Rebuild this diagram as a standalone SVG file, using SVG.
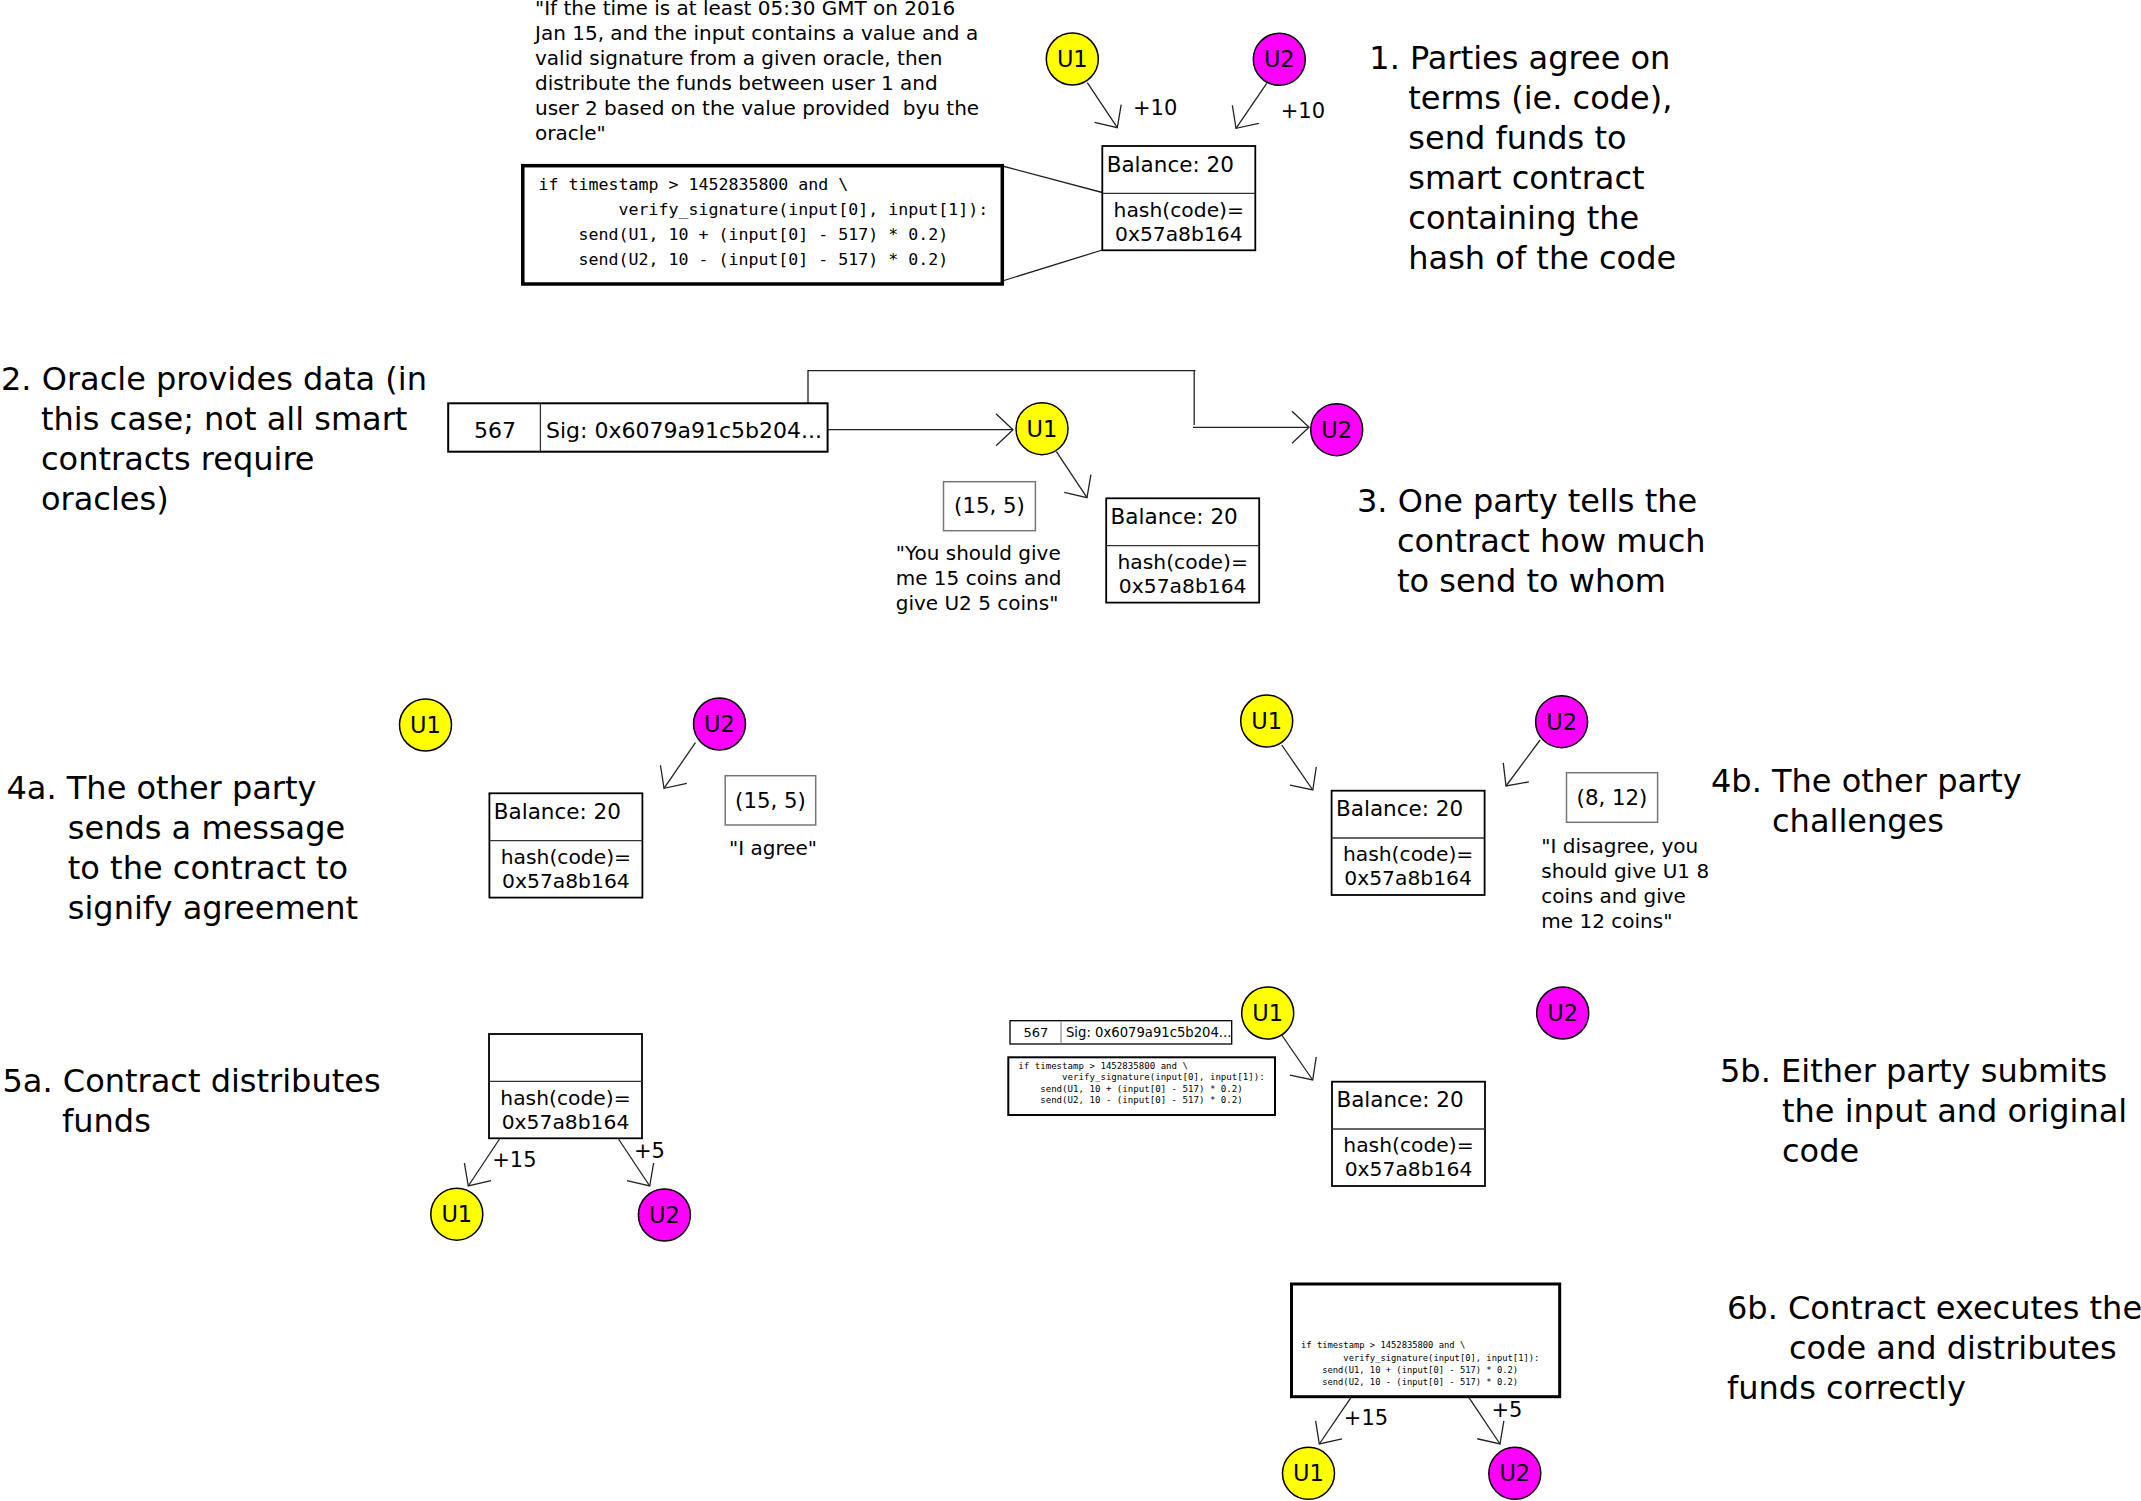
<svg xmlns="http://www.w3.org/2000/svg" width="2141" height="1501" viewBox="0 0 2141 1501">
<defs>
<style>
text{font-family:"DejaVu Sans","Liberation Sans",sans-serif;fill:#000}
.step{font-size:32px}
.note{font-size:20px}
.mono{font-family:"DejaVu Sans Mono","Liberation Mono",monospace;white-space:pre}
.u1{fill:#ffff00;stroke:#000;stroke-width:1.5}
.u2{fill:#ff00ff;stroke:#000;stroke-width:1.5}
.ut{font-size:22.5px;text-anchor:middle}
.box{fill:#fff;stroke:#000;stroke-width:1.8}
.div{stroke:#333;stroke-width:1.3}
.bal{font-size:21.5px}
.hash{font-size:20.3px;text-anchor:middle}
.msg{fill:#fff;stroke:#777;stroke-width:1.5}
.msgt{font-size:21.3px;text-anchor:middle}
.amt{font-size:21px}
.conn{fill:none;stroke:#222;stroke-width:1.3}
.arr{marker-end:url(#ah)}
.code{fill:#fff;stroke:#000;stroke-width:3.5}
.orc{fill:#fff;stroke:#000;stroke-width:2}
</style>
<marker id="ah" markerUnits="userSpaceOnUse" viewBox="-20 -20 40 40" markerWidth="40" markerHeight="40" refX="0" refY="0" orient="auto" overflow="visible">
<path d="M-17,-16 L0,0 L-17,16" fill="none" stroke="#222" stroke-width="1.3"/>
</marker>
</defs>
<rect width="2141" height="1501" fill="#fff"/>

<g id="connectors">
<line class="conn" x1="1002.3" y1="166" x2="1102.3" y2="192.5"/>
<line class="conn" x1="1002.3" y1="281" x2="1102.3" y2="250"/>
<line class="conn arr" x1="1087.3" y1="82.7" x2="1117.3" y2="127.7"/>
<line class="conn arr" x1="1266.7" y1="83.3" x2="1236" y2="128.3"/>
<line class="conn arr" x1="827.6" y1="429.7" x2="1013" y2="429.7"/>
<path class="conn" d="M808,403.3 V370.7 H1195.5 M1194.2,370.7 V425"/>
<line class="conn arr" x1="1193" y1="427.3" x2="1309" y2="427.3"/>
<line class="conn arr" x1="1056.4" y1="451.7" x2="1087" y2="497.7"/>
<line class="conn arr" x1="695.4" y1="742.7" x2="664" y2="788.3"/>
<line class="conn arr" x1="1281.7" y1="745" x2="1312.8" y2="790"/>
<line class="conn arr" x1="1540.1" y1="740" x2="1506" y2="786"/>
<line class="conn arr" x1="499.5" y1="1139" x2="468.3" y2="1186"/>
<line class="conn arr" x1="618.5" y1="1139" x2="649.7" y2="1186"/>
<line class="conn arr" x1="1281.7" y1="1035" x2="1312.7" y2="1080"/>
<line class="conn arr" x1="1351.1" y1="1397.3" x2="1319.3" y2="1444"/>
<line class="conn arr" x1="1468.8" y1="1397.3" x2="1500" y2="1444"/>
</g>

<g id="amounts">
<text class="amt" x="1133" y="115">+10</text>
<text class="amt" x="1280.7" y="118.3">+10</text>
<text class="amt" x="492.2" y="1166.7">+15</text>
<text class="amt" x="634" y="1158.3">+5</text>
<text class="amt" x="1343.8" y="1425">+15</text>
<text class="amt" x="1491.5" y="1416.7">+5</text>
</g>

<!-- Step 1 -->
<g id="terms-text">
<text class="note" x="535" y="15">"If the time is at least 05:30 GMT on 2016</text>
<text class="note" x="535" y="40">Jan 15, and the input contains a value and a</text>
<text class="note" x="535" y="65">valid signature from a given oracle, then</text>
<text class="note" x="535" y="90">distribute the funds between user 1 and</text>
<text class="note" x="535" y="115" xml:space="preserve">user 2 based on the value provided  byu the</text>
<text class="note" x="535" y="140">oracle"</text>
</g>
<g id="code1">
<rect class="code" x="522.8" y="165.7" width="479.5" height="118.3"/>
<text class="mono" font-size="16.6" x="538.6" y="190" xml:space="preserve">if timestamp &gt; 1452835800 and \</text>
<text class="mono" font-size="16.6" x="538.6" y="215" xml:space="preserve">        verify_signature(input[0], input[1]):</text>
<text class="mono" font-size="16.6" x="538.6" y="240" xml:space="preserve">    send(U1, 10 + (input[0] - 517) * 0.2)</text>
<text class="mono" font-size="16.6" x="538.6" y="265" xml:space="preserve">    send(U2, 10 - (input[0] - 517) * 0.2)</text>
</g>
<g id="contract1" transform="translate(1102.3,146)">
<rect class="box" width="153" height="104.3"/>
<line class="div" x1="0" y1="47.3" x2="153" y2="47.3"/>
<text class="bal" x="4.4" y="25.7">Balance: 20</text>
<text class="hash" x="76.5" y="70.7">hash(code)=</text>
<text class="hash" x="76.5" y="94.7">0x57a8b164</text>
</g>
<g id="u1-s1"><circle class="u1" cx="1072.3" cy="59" r="26"/><text class="ut" x="1072.3" y="67">U1</text></g>
<g id="u2-s1"><circle class="u2" cx="1279.3" cy="59.3" r="26"/><text class="ut" x="1279.3" y="67.3">U2</text></g>
<g id="step1">
<text class="step" x="1369.3" y="69">1. Parties agree on</text>
<text class="step" x="1408.3" y="109">terms (ie. code),</text>
<text class="step" x="1408.3" y="149">send funds to</text>
<text class="step" x="1408.3" y="189">smart contract</text>
<text class="step" x="1408.3" y="229">containing the</text>
<text class="step" x="1408.3" y="269">hash of the code</text>
</g>

<!-- Step 2 / 3 -->
<g id="step2">
<text class="step" x="1" y="390">2. Oracle provides data (in</text>
<text class="step" x="41" y="430">this case; not all smart</text>
<text class="step" x="41" y="470">contracts require</text>
<text class="step" x="41" y="510">oracles)</text>
</g>
<g id="oracle">
<rect class="orc" x="448.2" y="403.3" width="379.4" height="48.4"/>
<line class="div" x1="540.4" y1="403.3" x2="540.4" y2="453"/>
<text font-size="22" x="495" y="438" text-anchor="middle">567</text>
<text font-size="22" x="546" y="438">Sig: 0x6079a91c5b204...</text>
</g>
<g id="u1-s3"><circle class="u1" cx="1042" cy="428.7" r="26"/><text class="ut" x="1042" y="436.7">U1</text></g>
<g id="u2-s3"><circle class="u2" cx="1336.7" cy="429.7" r="26"/><text class="ut" x="1336.7" y="437.7">U2</text></g>
<g id="msg-s3">
<rect class="msg" x="943.5" y="481.7" width="91.9" height="49"/>
<text class="msgt" x="989.5" y="513">(15, 5)</text>
<text class="note" x="895.7" y="560">"You should give</text>
<text class="note" x="895.7" y="585">me 15 coins and</text>
<text class="note" x="895.7" y="610">give U2 5 coins"</text>
</g>
<g id="contract3" transform="translate(1106.2,498.3)">
<rect class="box" width="153" height="104.3"/>
<line class="div" x1="0" y1="47.3" x2="153" y2="47.3"/>
<text class="bal" x="4.4" y="25.7">Balance: 20</text>
<text class="hash" x="76.5" y="70.7">hash(code)=</text>
<text class="hash" x="76.5" y="94.7">0x57a8b164</text>
</g>
<g id="step3">
<text class="step" x="1357" y="511.7">3. One party tells the</text>
<text class="step" x="1397" y="551.7">contract how much</text>
<text class="step" x="1397" y="591.7">to send to whom</text>
</g>

<!-- Step 4a -->
<g id="step4a">
<text class="step" x="6.5" y="799">4a. The other party</text>
<text class="step" x="67.8" y="839">sends a message</text>
<text class="step" x="67.8" y="879">to the contract to</text>
<text class="step" x="67.8" y="919">signify agreement</text>
</g>
<g id="u1-s4a"><circle class="u1" cx="425.5" cy="725" r="26"/><text class="ut" x="425.5" y="733">U1</text></g>
<g id="u2-s4a"><circle class="u2" cx="719.5" cy="724" r="26"/><text class="ut" x="719.5" y="732">U2</text></g>
<g id="contract4a" transform="translate(489.4,793.3)">
<rect class="box" width="153" height="104.3"/>
<line class="div" x1="0" y1="47.3" x2="153" y2="47.3"/>
<text class="bal" x="4.4" y="25.7">Balance: 20</text>
<text class="hash" x="76.5" y="70.7">hash(code)=</text>
<text class="hash" x="76.5" y="94.7">0x57a8b164</text>
</g>
<g id="msg-s4a">
<rect class="msg" x="725.2" y="775.7" width="90.5" height="49.3"/>
<text class="msgt" x="770.5" y="808.3">(15, 5)</text>
<text class="note" x="729" y="855">"I agree"</text>
</g>

<!-- Step 4b -->
<g id="u1-s4b"><circle class="u1" cx="1266.7" cy="721" r="26"/><text class="ut" x="1266.7" y="729">U1</text></g>
<g id="u2-s4b"><circle class="u2" cx="1561.6" cy="721.7" r="26"/><text class="ut" x="1561.6" y="729.7">U2</text></g>
<g id="contract4b" transform="translate(1331.6,790.7)">
<rect class="box" width="153" height="104.3"/>
<line class="div" x1="0" y1="47.3" x2="153" y2="47.3"/>
<text class="bal" x="4.4" y="25.7">Balance: 20</text>
<text class="hash" x="76.5" y="70.7">hash(code)=</text>
<text class="hash" x="76.5" y="94.7">0x57a8b164</text>
</g>
<g id="msg-s4b">
<rect class="msg" x="1566.5" y="772.7" width="91.1" height="49.6"/>
<text class="msgt" x="1612" y="805">(8, 12)</text>
<text class="note" x="1541.3" y="853.3">"I disagree, you</text>
<text class="note" x="1541.3" y="878.3">should give U1 8</text>
<text class="note" x="1541.3" y="903.3">coins and give</text>
<text class="note" x="1541.3" y="928.3">me 12 coins"</text>
</g>
<g id="step4b">
<text class="step" x="1711" y="791.7">4b. The other party</text>
<text class="step" x="1772" y="831.7">challenges</text>
</g>

<!-- Step 5a -->
<g id="step5a">
<text class="step" x="2.5" y="1091.7">5a. Contract distributes</text>
<text class="step" x="62" y="1131.7">funds</text>
</g>
<g id="contract5a" transform="translate(489,1034)">
<rect class="box" width="153" height="104.3"/>
<line class="div" x1="0" y1="47.3" x2="153" y2="47.3"/>
<text class="hash" x="76.5" y="70.7">hash(code)=</text>
<text class="hash" x="76.5" y="94.7">0x57a8b164</text>
</g>
<g id="u1-s5a"><circle class="u1" cx="456.8" cy="1214.2" r="26"/><text class="ut" x="456.8" y="1222.2">U1</text></g>
<g id="u2-s5a"><circle class="u2" cx="664.4" cy="1215" r="26"/><text class="ut" x="664.4" y="1223">U2</text></g>

<!-- Step 5b -->
<g id="oracle-s5b">
<rect fill="#fff" stroke="#000" stroke-width="1.3" x="1010" y="1020.7" width="221.7" height="23.3"/>
<line stroke="#777" stroke-width="1" x1="1061" y1="1020.7" x2="1061" y2="1044"/>
<text font-size="13" x="1036" y="1036.7" text-anchor="middle">567</text>
<text font-size="13.2" x="1066" y="1036.7">Sig: 0x6079a91c5b204...</text>
</g>
<g id="code-s5b">
<rect fill="#fff" stroke="#000" stroke-width="2" x="1008.3" y="1057.3" width="266.7" height="57.7"/>
<text class="mono" font-size="9.1" x="1018.3" y="1069.3" xml:space="preserve">if timestamp &gt; 1452835800 and \</text>
<text class="mono" font-size="9.1" x="1018.3" y="1080.4" xml:space="preserve">        verify_signature(input[0], input[1]):</text>
<text class="mono" font-size="9.1" x="1018.3" y="1091.5" xml:space="preserve">    send(U1, 10 + (input[0] - 517) * 0.2)</text>
<text class="mono" font-size="9.1" x="1018.3" y="1102.6" xml:space="preserve">    send(U2, 10 - (input[0] - 517) * 0.2)</text>
</g>
<g id="u1-s5b"><circle class="u1" cx="1267.7" cy="1013" r="26"/><text class="ut" x="1267.7" y="1021">U1</text></g>
<g id="u2-s5b"><circle class="u2" cx="1562.7" cy="1013" r="26"/><text class="ut" x="1562.7" y="1021">U2</text></g>
<g id="contract5b" transform="translate(1332,1081.7)">
<rect class="box" width="153" height="104.3"/>
<line class="div" x1="0" y1="47.3" x2="153" y2="47.3"/>
<text class="bal" x="4.4" y="25.7">Balance: 20</text>
<text class="hash" x="76.5" y="70.7">hash(code)=</text>
<text class="hash" x="76.5" y="94.7">0x57a8b164</text>
</g>
<g id="step5b">
<text class="step" x="1720" y="1082">5b. Either party submits</text>
<text class="step" x="1782" y="1122">the input and original</text>
<text class="step" x="1782" y="1162">code</text>
</g>

<!-- Step 6b -->
<g id="code-s6b">
<rect fill="#fff" stroke="#000" stroke-width="3" x="1291.5" y="1284" width="268.2" height="112.7"/>
<text class="mono" font-size="8.8" x="1301" y="1348.3" xml:space="preserve">if timestamp &gt; 1452835800 and \</text>
<text class="mono" font-size="8.8" x="1301" y="1360.5" xml:space="preserve">        verify_signature(input[0], input[1]):</text>
<text class="mono" font-size="8.8" x="1301" y="1372.7" xml:space="preserve">    send(U1, 10 + (input[0] - 517) * 0.2)</text>
<text class="mono" font-size="8.8" x="1301" y="1384.9" xml:space="preserve">    send(U2, 10 - (input[0] - 517) * 0.2)</text>
</g>
<g id="u1-s6b"><circle class="u1" cx="1308.5" cy="1473.3" r="26"/><text class="ut" x="1308.5" y="1481.3">U1</text></g>
<g id="u2-s6b"><circle class="u2" cx="1514.8" cy="1473.3" r="26"/><text class="ut" x="1514.8" y="1481.3">U2</text></g>
<g id="step6b">
<text class="step" x="1727" y="1319">6b. Contract executes the</text>
<text class="step" x="1789" y="1359">code and distributes</text>
<text class="step" x="1727" y="1399">funds correctly</text>
</g>
</svg>
